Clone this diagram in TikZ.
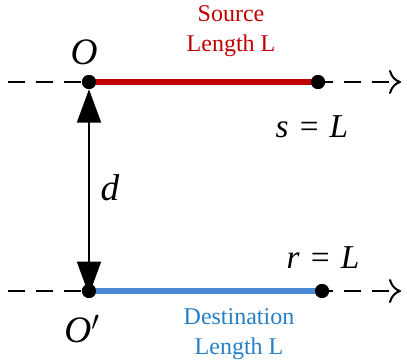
\documentclass[tikz,border=0pt]{standalone}
\usepackage{fontspec}
\setmainfont{Liberation Serif}
\usetikzlibrary{positioning,arrows.meta}
\definecolor{srcred}{HTML}{C00000}
\definecolor{dstblue}{HTML}{4A88D6}
\definecolor{dsttext}{HTML}{2680C8}
\tikzset{
  axisline/.style={dashed, dash pattern=on 12.5pt off 8.5pt, line width=1.6pt, -{To[length=9pt, width=18pt, line width=1.5pt]}},
  srcline/.style={srcred, line width=5pt},
  dstline/.style={dstblue, line width=4pt},
  enddot/.style={circle, fill=black, inner sep=0pt, minimum size=10.5pt},
  distarrow/.style={{Triangle[length=25pt, width=18pt]}-{Triangle[length=25pt, width=18pt]}, line width=1.3pt},
  mathlabel/.style={font=\fontsize{28}{32}\selectfont\itshape, inner sep=0pt},
  eqlabel/.style={font=\fontsize{25}{28}\selectfont, inner sep=0pt},
  srclabel/.style={text=srcred, align=center, font=\fontsize{18}{22.5}\selectfont, inner sep=0pt},
  dstlabel/.style={text=dsttext, align=center, font=\fontsize{18}{22}\selectfont, inner sep=0pt}
}

\begin{document}
\begin{tikzpicture}[x=0.75pt, y=-0.75pt]
  \useasboundingbox (0,0) rectangle (407,364);
  % reference points
  \coordinate (topstart) at (8,82);
  \coordinate (topend) at (401,82);
  \coordinate (botstart) at (8,291);
  \coordinate (botend) at (401,291);
  \node[enddot] (o) at (89,82) {};
  \node[enddot] (s) at (318,82) {};
  \node[enddot] (op) at (89,291) {};
  \node[enddot] (r) at (322,291) {};
  % axes
  \draw[axisline] (topstart) -- (topend);
  \draw[axisline] (botstart) -- (botend);
  \draw[srcline] (o.center) -- (s.center);
  \draw[dstline] (op.center) -- (r.center);
  \node[enddot] at (o) {};
  \node[enddot] at (s) {};
  \node[enddot] at (op) {};
  \node[enddot] at (r) {};
  % distance between the two
  \draw[distarrow] (o.south) -- ([yshift=-3pt]op.center);
  % labels
  \node[mathlabel] (olabel) at (84,52) {O};
  \node[mathlabel] (oplabel) at (82,329) {O$'$};
  \node[mathlabel] (dlabel) at (110,188) {d};
  \node[eqlabel] (slabel) at (312,127) {\textit{s}\,\,=\,\,\textit{L}};
  \node[eqlabel] (rlabel) at (323,258) {\textit{r}\,\,=\,\,\textit{L}};
  \node[srclabel] (srctext) at (231,31) {Source\\Length L};
  \node[dstlabel] (dsttext) at (239,334) {Destination\\Length L};
\end{tikzpicture}
\end{document}
